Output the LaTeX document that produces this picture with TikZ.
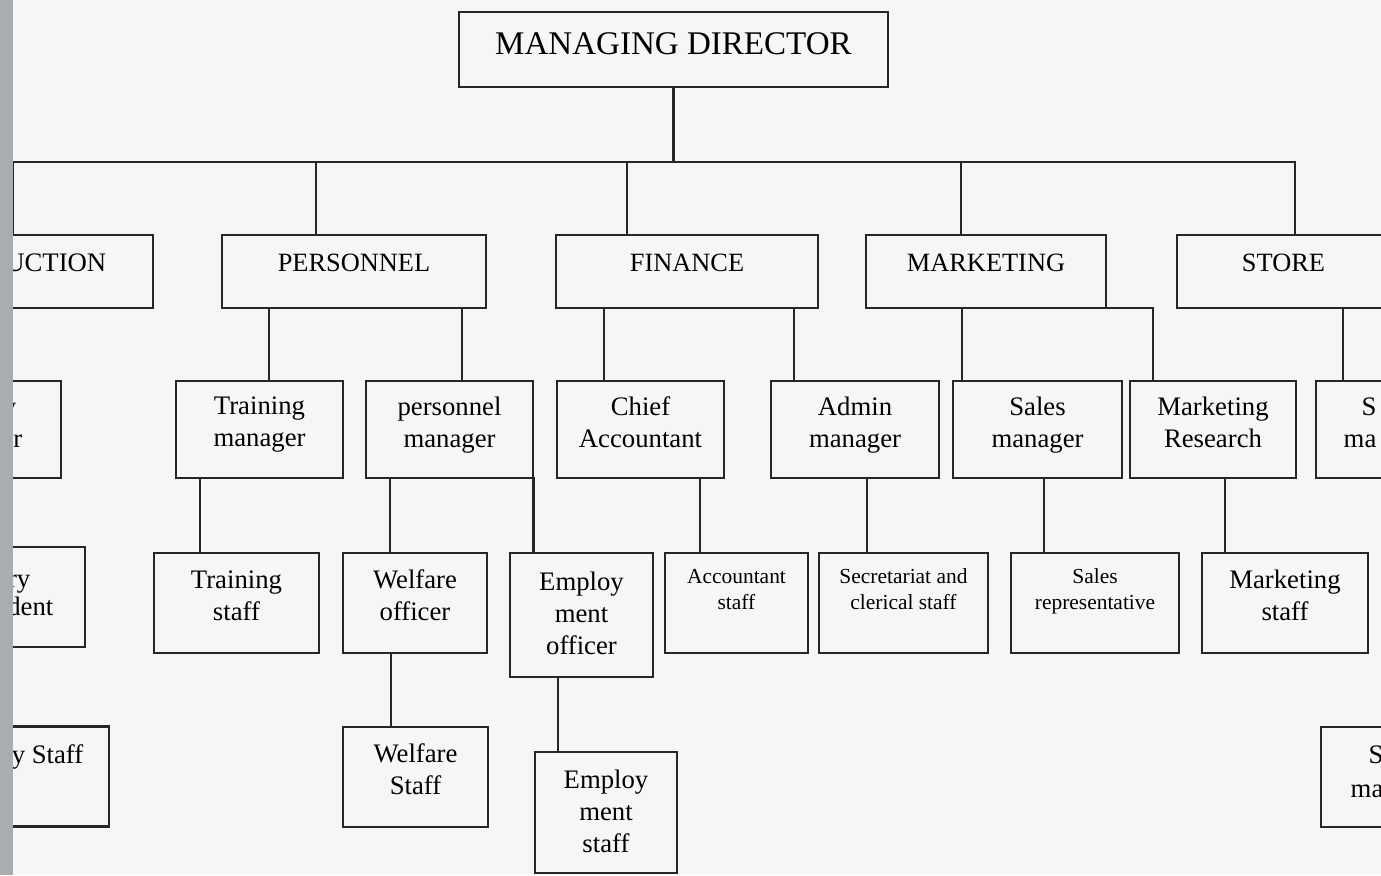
\documentclass[tikz,border=0pt]{standalone}
\usepackage{fontspec}
\setmainfont{Liberation Serif}
\usetikzlibrary{calc}
\definecolor{paper}{RGB}{246,246,244}
\definecolor{ink}{RGB}{38,38,38}
\definecolor{scanedge}{RGB}{168,173,176}
\tikzset{
  post/.style={draw=ink,line width=0.6pt,inner sep=0pt,outer sep=0pt,align=center,minimum height=0.97cm,
    font=\fontsize{7.6}{9.1}\selectfont,text depth=4.3pt},
  staff/.style={post,minimum height=1cm},
  tall/.style={post,text depth=1pt},
  note/.style={post,minimum height=1cm,font=\fontsize{6.1}{7.4}\selectfont,text depth=8pt},
  dept/.style={post,minimum height=0.73cm,font=\fontsize{7.5}{9}\selectfont,text depth=5.2pt},
  head/.style={post,minimum height=0.75cm,font=\fontsize{9.4}{11}\selectfont,text depth=3.5pt},
  frag/.style={inner sep=0pt,font=\fontsize{7.6}{9.1}\selectfont},
  link/.style={draw=ink,line width=0.6pt}
}
\begin{document}
\begin{tikzpicture}[x=0.01cm,y=-0.01cm]
  \useasboundingbox (0,0) rectangle (1381,875);
  \fill[paper] (0,0) rectangle (1381,875);
  \clip (0,0) rectangle (1381,875);

  % head of the chart
  \node[head,minimum width=4.29cm] (md) at (673.5,49.5) {MANAGING DIRECTOR};
  \coordinate (hub) at ($(md.south)+(0,75)$);

  % departments
  \node[dept,minimum width=2.6cm] (prod) at (23,271.5) {};
  \node[dept,minimum width=2.64cm] (pers) at (354,271.5) {PERSONNEL};
  \node[dept,minimum width=2.62cm] (fin) at (687,271.5) {FINANCE};
  \node[dept,minimum width=2.4cm] (mkt) at (986,271.5) {MARKETING};
  \node[dept,minimum width=2.13cm] (store) at (1283.5,271.5) {STORE};

  % managers
  \node[post,minimum width=1.68cm] (facmgr) at (-23,429.5) {};
  \node[post,minimum width=1.67cm] (trmgr) at (259.5,429.5) {Training\\manager};
  \node[post,minimum width=1.67cm] (persmgr) at (449.5,429.5) {personnel\\manager};
  \node[post,minimum width=1.67cm] (chief) at (640.5,429.5) {Chief\\Accountant};
  \node[post,minimum width=1.68cm] (admin) at (855,429.5) {Admin\\manager};
  \node[post,minimum width=1.69cm] (salesmgr) at (1037.5,429.5) {Sales\\manager};
  \node[post,minimum width=1.66cm] (mktres) at (1213,429.5) {Marketing\\Research};
  \node[post,minimum width=1.67cm] (storemgr) at (1399.5,429.5) {};

  % officers and staff
  \node[staff,minimum width=1.92cm] (facsup) at (-11,597) {};
  \node[staff,minimum width=1.65cm] (trstaff) at (236.5,603) {Training\\staff};
  \node[staff,minimum width=1.44cm] (welfoff) at (415,603) {Welfare\\officer};
  \node[tall,minimum width=1.43cm,minimum height=1.24cm] (empoff) at (581.5,615) {Employ\\ment\\officer};
  \node[note,minimum width=1.43cm] (accstaff) at (736.5,603) {Accountant\\staff};
  \node[note,minimum width=1.69cm] (secstaff) at (903.5,603) {Secretariat and\\clerical staff};
  \node[note,minimum width=1.68cm] (salesrep) at (1095,603) {Sales\\representative};
  \node[staff,minimum width=1.66cm] (mktstaff) at (1285,603) {Marketing\\staff};

  \node[staff,minimum width=2.16cm] (facstaff) at (1,776.5) {};
  \node[staff,minimum width=1.45cm] (welfstaff) at (415.5,777) {Welfare\\Staff};
  \node[tall,minimum width=1.42cm,minimum height=1.21cm] (empstaff) at (606,812.5) {Employ\\ment\\staff};
  \node[staff,minimum width=1.67cm] (storestaff) at (1404.5,777) {};

  % words running off the edges
  \node[frag,anchor=base east] (prodtxt) at (107,271) {UCTION};
  \node[frag,anchor=base east] (facmgra) at (17,415) {y};
  \node[frag,anchor=base east] (facmgrb) at (23,447) {r};
  \node[frag,anchor=base east] (facsupa) at (31,587) {ry};
  \node[frag,anchor=base east] (facsupb) at (54,615) {dent};
  \node[frag,anchor=base east] (facstafft) at (84,763) {y Staff};
  \node[frag,anchor=base west] (storemgra) at (1361,415) {S};
  \node[frag,anchor=base west] (storemgrb) at (1343,447) {ma};
  \node[frag,anchor=base west] (storestaffa) at (1368,763) {S};
  \node[frag,anchor=base west] (storestaffb) at (1350,797) {ma};

  % connectors
  \draw[link] (md.south) -- (hub);
  \foreach \n/\dx in {prod/-10,pers/-38,fin/-60,mkt/-25,store/11.5}
    \draw[link] (hub) -| ($(\n.north)+(\dx,0)$);
  \foreach \n/\dx/\p in {trmgr/9.5/pers,persmgr/12.5/pers,chief/-36.5/fin,admin/-61/fin,
      salesmgr/-75.5/mkt,mktres/-60/mkt,storemgr/-56.5/store,
      trstaff/-36.5/trmgr,welfoff/-25/persmgr,empoff/-48/persmgr,accstaff/-36.5/chief,
      secstaff/-36.5/admin,salesrep/-51/salesmgr,mktstaff/-60/mktres,
      welfstaff/-24.5/welfoff,empstaff/-48/empoff}
    \draw[link] ($(\n.north)+(\dx,0)$) |- (\p.south);

  % binding edge of the page
  \fill[scanedge] (0,0) rectangle (13,875);
\end{tikzpicture}
\end{document}
